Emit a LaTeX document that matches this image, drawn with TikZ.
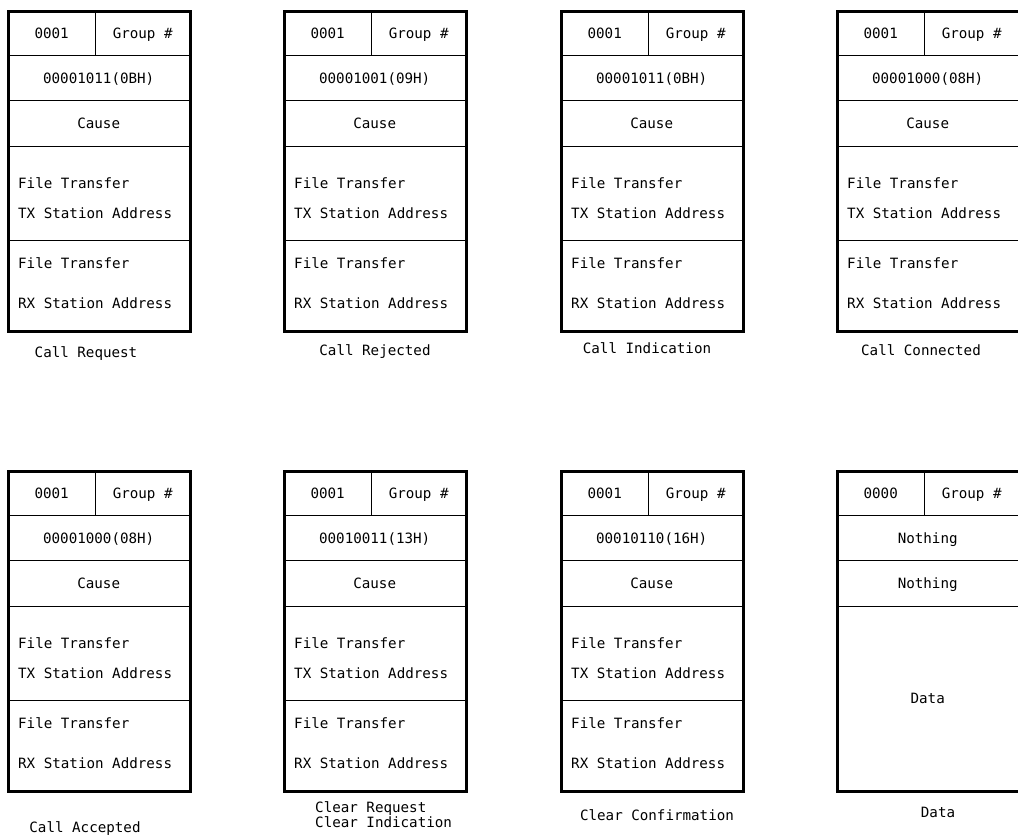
\documentclass[tikz,border=0pt]{standalone}
\usepackage{fontspec}
\setmainfont{DejaVu Sans Mono}
\newcommand\plotfont{\fontsize{14.2}{16}\selectfont}

% One packet layout: #1 name, #2 left, #3 top, #4 first field, #5 type field
\newcommand\packetframe[5]{%
  \node[cell, minimum width=88, minimum height=45] (#1-num) at (#2,#3) {#4};
  \node[cell, minimum width=94, minimum height=45] (#1-grp) at (#2+88,#3) {Group \#};
  \node[cell, minimum width=182, minimum height=45] (#1-hex) at (#2,#3+45) {#5};
  \node[cell, minimum width=182, minimum height=46] (#1-cau) at (#2,#3+90) {Cause};
  \node[cell, minimum width=182, minimum height=94] (#1-tx) at (#2,#3+136) {};
  \node[cell, minimum width=182, minimum height=90] (#1-rx) at (#2,#3+230) {};
  \node[field] (#1-tx1) at (#2+11,#3+178) {File Transfer};
  \node[field] (#1-tx2) at (#2+11,#3+208) {TX Station Address};
  \node[field] (#1-rx1) at (#2+11,#3+258) {File Transfer};
  \node[field] (#1-rx2) at (#2+11,#3+298) {RX Station Address};
  \node[frame, minimum width=182, minimum height=320] (#1-frame) at (#2,#3) {};
}

\begin{document}
\begin{tikzpicture}[x=1pt,y=-1pt,
  cell/.style={draw, line width=1.4pt, rectangle, inner sep=0pt, anchor=north west,
    font=\plotfont, text height=10pt, text depth=0pt},
  frame/.style={draw, line width=2.6pt, rectangle, inner sep=0pt, anchor=north west},
  field/.style={inner sep=0pt, anchor=base west, font=\plotfont},
  caption/.style={inner sep=0pt, anchor=base, font=\plotfont},
  captionleft/.style={inner sep=0pt, anchor=base west, font=\plotfont}]

\useasboundingbox (0,0) rectangle (1018,836);
\clip (0,0) rectangle (1018,836);

% upper row
\packetframe{creq}{7}{10}{0001}{00001011(0BH)}
\packetframe{crej}{283}{10}{0001}{00001001(09H)}
\packetframe{cind}{560}{10}{0001}{00001011(0BH)}
\packetframe{ccon}{836}{10}{0001}{00001000(08H)}

\node[caption] (creq-cap) at (86,357) {Call Request};
\node[caption] (crej-cap) at (375,355) {Call Rejected};
\node[caption] (cind-cap) at (647,353) {Call Indication};
\node[caption] (ccon-cap) at (921,355) {Call Connected};

% lower row
\packetframe{cacc}{7}{470}{0001}{00001000(08H)}
\packetframe{clrq}{283}{470}{0001}{00010011(13H)}
\packetframe{clcf}{560}{470}{0001}{00010110(16H)}

% data packet
\node[cell, minimum width=88, minimum height=45] (data-num) at (836,470) {0000};
\node[cell, minimum width=94, minimum height=45] (data-grp) at (924,470) {Group \#};
\node[cell, minimum width=182, minimum height=45] (data-hex) at (836,515) {Nothing};
\node[cell, minimum width=182, minimum height=46] (data-cau) at (836,560) {Nothing};
\node[cell, minimum width=182, minimum height=184] (data-body) at (836,606) {Data};
\node[frame, minimum width=182, minimum height=320] (data-frame) at (836,470) {};

\node[caption] (cacc-cap) at (85,832) {Call Accepted};
\node[captionleft] (clrq-cap1) at (315,812) {Clear Request};
\node[captionleft] (clrq-cap2) at (315,827) {Clear Indication};
\node[caption] (clcf-cap) at (657,820) {Clear Confirmation};
\node[caption] (data-cap) at (938,817) {Data};
\end{tikzpicture}
\end{document}
